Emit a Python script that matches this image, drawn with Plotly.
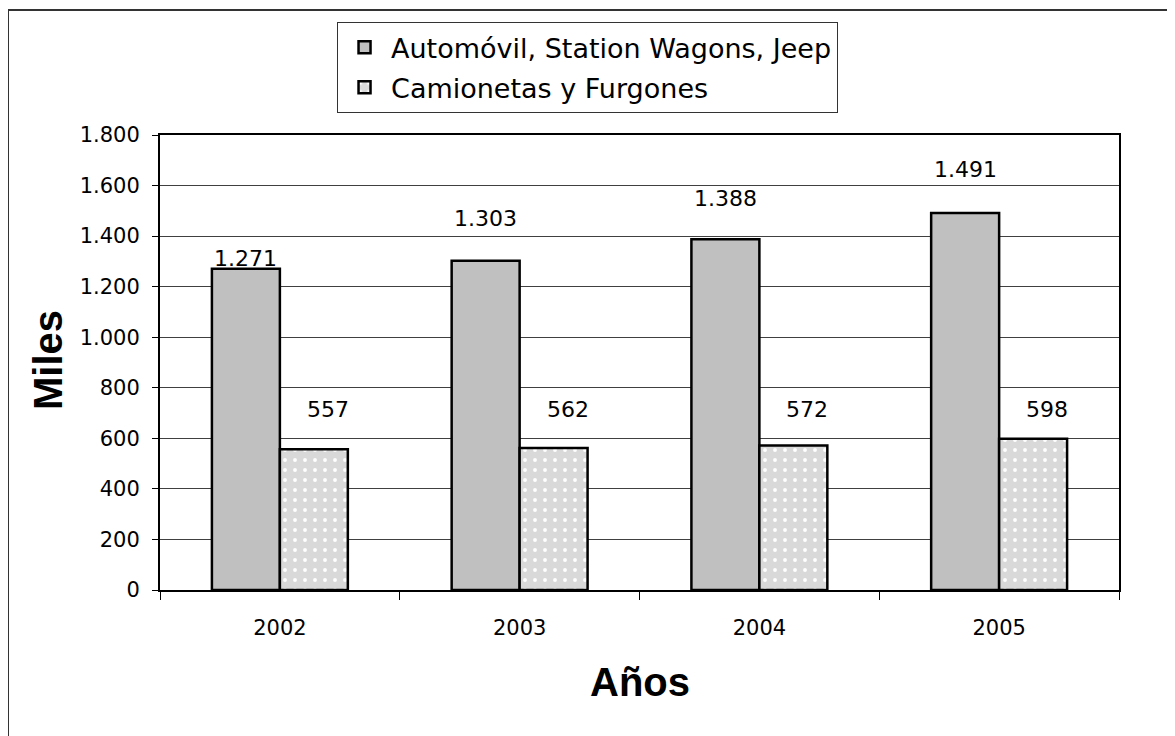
import plotly.graph_objects as go

# Data (thousands of vehicles)
YEARS = ["2002", "2003", "2004", "2005"]
AUTOS = [1271, 1303, 1388, 1491]
CAMIONETAS = [557, 562, 572, 598]
SERIES_NAMES = ["Automóvil, Station Wagons, Jeep", "Camionetas y Furgones"]

# Label lift above each bar in pixels (the source placed them unevenly)
AUTOS_LIFT = [-4, 28, 26, 29]
CAMIONETAS_LIFT = [25, 24, 21, 15]

FONT = "DejaVu Sans"
TITLE_FONT = "Liberation Sans"


def fmt(v):
    return f"{v:,}".replace(",", ".")


fig = go.Figure()
fig.add_trace(
    go.Bar(
        x=YEARS,
        y=AUTOS,
        name=SERIES_NAMES[0],
        legendgroup="a",
        marker=dict(color="#c0c0c0", line=dict(color="black", width=2.5)),
    )
)
fig.add_trace(
    go.Bar(
        x=YEARS,
        y=CAMIONETAS,
        name=SERIES_NAMES[1],
        legendgroup="b",
        marker=dict(
            color="#d9d9d9",
            line=dict(color="black", width=2.5),
            pattern=dict(
                shape=".",
                fgcolor="white",
                bgcolor="#d9d9d9",
                size=10,
                solidity=0.12,
                fillmode="replace",
            ),
        ),
    )
)

# Data labels (x given as category index so the axis range is untouched)
for i, (v, lift) in enumerate(zip(AUTOS, AUTOS_LIFT)):
    fig.add_annotation(
        x=i, y=v, text=fmt(v), showarrow=False, yanchor="bottom",
        xshift=-34, yshift=lift, font=dict(family=FONT, size=22, color="black"),
    )
for i, (v, lift) in enumerate(zip(CAMIONETAS, CAMIONETAS_LIFT)):
    fig.add_annotation(
        x=i, y=v, text=fmt(v), showarrow=False, yanchor="bottom",
        xshift=48, yshift=lift, font=dict(family=FONT, size=22, color="black"),
    )

# Axis titles
fig.add_annotation(
    x=-0.142, y=0.505, xref="paper", yref="paper", text="<b>Miles</b>",
    textangle=-90, showarrow=False,
    font=dict(family=TITLE_FONT, size=40, color="black"),
)
fig.add_annotation(
    x=0.5, y=-0.255, xref="paper", yref="paper", text="<b>Años</b>",
    showarrow=False, font=dict(family=TITLE_FONT, size=40, color="black"),
)

# Outer frame (left and top edges visible)
fig.add_shape(type="line", xref="paper", yref="paper",
              x0=-0.1585, x1=-0.1585, y0=1.2747, y1=-0.35,
              line=dict(color="#333333", width=2))
fig.add_shape(type="line", xref="paper", yref="paper",
              x0=-0.1595, x1=1.07, y0=1.2747, y1=1.2747,
              line=dict(color="#333333", width=2))

fig.update_layout(
    width=1167,
    height=728,
    margin=dict(l=152, r=56, t=127, b=146, autoexpand=False),
    paper_bgcolor="white",
    plot_bgcolor="white",
    separators=",.",
    barmode="group",
    bargap=0.433,
    bargroupgap=0,
    font=dict(family=FONT, size=21, color="black"),
    showlegend=True,
    legend=dict(
        x=0.1846, y=1.248, xanchor="left", yanchor="top",
        bgcolor="white", bordercolor="#333333", borderwidth=1,
        font=dict(family=FONT, size=27, color="black"),
        tracegroupgap=2,
        itemwidth=43,
    ),
    xaxis=dict(
        type="category",
        range=[-0.5, 3.5],
        showline=True, linecolor="black", linewidth=2, mirror=True,
        ticks="outside", tickson="boundaries", ticklen=8,
        tickcolor="black", tickwidth=1,
        showgrid=False,
        tickfont=dict(family=FONT, size=21),
        ticklabelstandoff=18,
    ),
    yaxis=dict(
        range=[0, 1800], dtick=200, tickformat=",d",
        showline=True, linecolor="black", linewidth=2, mirror=True,
        ticks="outside", ticklen=6, tickcolor="black", tickwidth=1,
        showgrid=True, gridcolor="#404040", gridwidth=1,
        zeroline=False,
        tickfont=dict(family=FONT, size=21),
        ticklabelstandoff=8,
    ),
)

fig.write_html("out.html")
